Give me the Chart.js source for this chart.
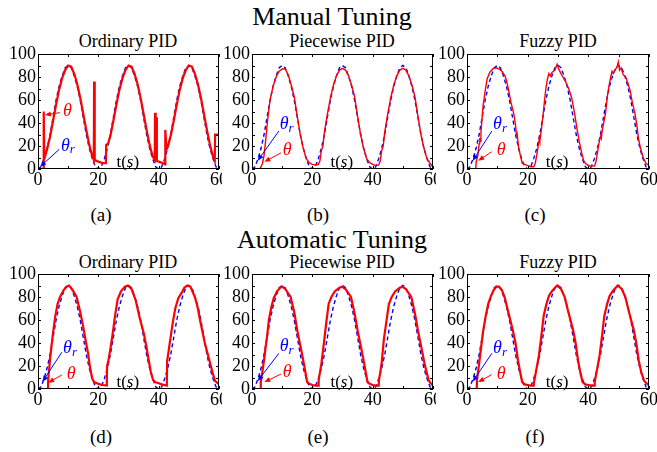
<!DOCTYPE html>
<html>
<head>
<meta charset="utf-8">
<script src="https://cdn.jsdelivr.net/npm/chart.js@4.4.1/dist/chart.umd.min.js"></script>
<style>
  body { margin: 0; background: #fff; }
  #fig { position: relative; width: 657px; height: 452px; overflow: hidden;
         font-family: 'Liberation Serif', 'Times New Roman', serif; color: #000; }
  .t { position: absolute; white-space: nowrap; transform: translate(-50%, -50%); line-height: 1; }
  canvas { position: absolute; }
</style>
</head>
<body>
<div id="fig">
  <div class="t" style="left:332px;top:17px;font-size:26px">Manual Tuning</div>
  <div class="t" style="left:128px;top:41px;font-size:18px">Ordinary PID</div>
  <div class="t" style="left:342px;top:41px;font-size:18px">Piecewise PID</div>
  <div class="t" style="left:558px;top:41px;font-size:18px">Fuzzy PID</div>
  <div class="t" style="left:101px;top:214px;font-size:19px">(a)</div>
  <div class="t" style="left:318px;top:214px;font-size:19px">(b)</div>
  <div class="t" style="left:535px;top:214px;font-size:19px">(c)</div>

  <div class="t" style="left:332px;top:240px;font-size:26px">Automatic Tuning</div>
  <div class="t" style="left:128px;top:262px;font-size:18px">Ordinary PID</div>
  <div class="t" style="left:342px;top:262px;font-size:18px">Piecewise PID</div>
  <div class="t" style="left:558px;top:262px;font-size:18px">Fuzzy PID</div>
  <div class="t" style="left:101px;top:436px;font-size:19px">(d)</div>
  <div class="t" style="left:318px;top:436px;font-size:19px">(e)</div>
  <div class="t" style="left:535px;top:436px;font-size:19px">(f)</div>

  <canvas id="pa" width="222" height="148" style="left:0px;top:44px"></canvas>
  <canvas id="pb" width="214" height="148" style="left:222px;top:44px"></canvas>
  <canvas id="pc" width="221" height="148" style="left:436px;top:44px"></canvas>
  <canvas id="pd" width="222" height="148" style="left:0px;top:264px"></canvas>
  <canvas id="pe" width="214" height="148" style="left:222px;top:264px"></canvas>
  <canvas id="pf" width="221" height="148" style="left:436px;top:264px"></canvas>
</div>
<script>
// axis ticks
const xTicks = [0, 20, 40, 60]
const yTicks = [0, 20, 40, 60, 80, 100]
const xMinor = [0, 10, 20, 30, 40, 50, 60]
const yMinor = [0, 10, 20, 30, 40, 50, 60, 70, 80, 90, 100]

// reference angle theta_r (same in every panel)
const tRef = [0,1,2,3,4,5,6,7,8,9,10,11,12,13,14,15,16,17,18,19,20,21,22,23,24,25,26,27,28,29,30,
  31,32,33,34,35,36,37,38,39,40,41,42,43,44,45,46,47,48,49,50,51,52,53,54,55,56,57,58,59,60]
const thetaRef = [0,2,9,18,30,45,60,72,81,88,90,88,81,72,60,45,30,18,9,2,0,
  2,9,18,30,45,60,72,81,88,90,88,81,72,60,45,30,18,9,2,0,
  2,9,18,30,45,60,72,81,88,90,88,81,72,60,45,30,18,9,2,0]

// measured angle theta, [t, value]
const manualOrdinary = [[0,0],[1.8,0],[1.9,50],[2.1,9],[3,17],[4,28],[5,42],[6,56],[7,69],[8,79],[9,86],[10,90],
  [11,89],[12,83],[13,74],[14,62],[15,48],[16,34],[17,21],[18,11],[18.5,8],[18.6,76],[18.8,8],[19.5,7],[20.5,6],
  [21.5,5],[22.5,5],[22.6,21],[23.2,22],[24,29],[25,42],[26,56],[27,69],[28,79],[29,86],[30,90],[31,89],[32,83],
  [33,74],[34,62],[35,48],[36,34],[37,21],[38,11],[38.7,8],[38.8,49],[39,7],[39.2,45],[39.4,7],[40.5,6],[41.5,5],
  [42.1,4],[42.2,34],[42.6,17],[43.2,21],[44,29],[45,42],[46,56],[47,69],[48,79],[49,86],[50,90],[51,89],[52,83],
  [53,74],[54,62],[55,48],[56,34],[57,21],[58,11],[58.6,7],[58.7,30],[60,30]]
const manualPiecewise = [[0,0],[2.6,0],[3,2],[3.5,5],[4,12],[4.5,24],[5,38],[5.5,50],[6,60],[7,72],[8,80],[9,85],
  [10,87],[11,87],[12,82],[13,73],[13.5,68],[14,63],[15,46],[16,30],[17,18],[18,9],[19,5.5],[20,4],[21,3.5],[22,4],
  [22.5,7],[23,16],[23.5,20],[24,32],[25,48],[26,62],[27,73],[28,81],[29,86],[30,87.5],[31,86],[32,81],[33,73],
  [33.5,68],[34,63],[35,46],[36,30],[37,18],[38,9],[39,5.5],[40,4],[41,3],[42,3.5],[42.5,7],[43,16],[43.5,20],
  [44,32],[45,48],[46,62],[47,73],[48,81],[49,86],[50,87.5],[51,86],[52,81],[53,73],[53.5,68],[54,63],[55,46],
  [56,30],[57,18],[58,9],[59,5],[60,2]]
const manualFuzzy = [[0,0],[2.9,0],[3,6],[3.6,12],[4,22],[4.2,27],[4.4,24],[4.6,32],[5,45],[5.3,55],[6,68],
  [6.6,78],[7.5,84],[8.5,87],[9.5,88],[10.5,87],[11.5,85],[12.5,81],[13,77],[13.6,70],[14.5,58],[15.5,47],[16,38],
  [16.3,30],[16.5,31],[17,19],[17.5,13],[18.2,5],[19,4],[20,3],[21,2],[22,2],[22.5,5],[23,12],[23.6,22],[23.8,26],
  [24,24],[24.4,32],[25,45],[25.5,58],[26,70],[26.5,78],[27,83],[27.5,81],[28,84],[29,86],[29.7,91],[30.2,87],
  [31,83],[31.6,80],[32.5,76],[33.5,70],[34.5,62],[35.5,48],[36.2,36],[37,24],[37.8,14],[38.5,7],[39,5],[40,3],
  [41,2.5],[42,2.5],[42.5,6],[43,14],[43.6,24],[44.1,29],[44.3,27],[44.6,34],[45.2,42],[45.7,49],[46.2,62],
  [46.8,72],[47.4,80],[47.8,85],[48.2,83],[48.8,86],[49.5,89],[49.9,93],[50.3,86],[50.8,88],[51.5,82],[52.3,80],
  [53,75],[53.8,68],[54.5,58],[55.4,48],[56,38],[56.5,27],[57.2,18],[58.2,9],[59,5],[60,3]]
const autoOrdinary = [[0,0],[3.3,0],[3.4,9],[4,26],[4.5,38],[5,49],[5.7,63],[6.5,74],[7.3,80],[8.5,86],[9.5,89],
  [10.3,90],[11.5,86],[12.8,80],[14,67],[15,54],[15.8,42],[16.6,31],[17.3,18],[18,9],[18.6,6],[19.5,5],[20.5,4],
  [21.5,3.5],[22.8,3],[22.9,20],[23.3,24],[24,35],[24.7,47],[25.5,63],[26.4,78],[27.5,85],[28.8,89],[29.8,90],
  [31,87],[32.4,77],[33.7,62],[35.1,48],[36,36],[36.7,25],[37.4,15],[38.1,8],[38.8,6],[40,5],[41,4],[42.7,3],
  [42.8,24],[43.9,44],[44.7,58],[45.5,70],[46.5,79],[47.7,84],[48.5,88],[49.5,90],[50.5,89],[52,80],[53,70],
  [53.7,60],[54.5,50],[55.3,40],[56.2,31],[57,23],[58,13],[58.7,7],[60,4]]
const autoPiecewise = [[0,0],[2.8,0],[2.9,6],[3.5,16],[4,25],[4.5,36],[5,46],[5.6,60],[6.4,71],[7.2,79],[8.3,85],
  [9.3,88],[10,89],[11,87],[12.8,80],[14,67],[15,51],[16,38],[17.2,22],[18.3,6],[19,4.5],[20,3.5],[21,3],[22,3],
  [22.1,8],[22.5,14],[23,22],[23.8,39],[24.5,55],[25.4,74],[26.3,80],[27.5,85],[29,88],[29.8,89],[31,87],[32.8,80],
  [34,66],[35,51],[36,38],[37.2,22],[38.3,6],[39,4.5],[40,3.5],[41,3],[42,3],[42.1,8],[42.5,14],[43,23],[43.7,43],
  [44.5,58],[45.4,74],[46.3,80],[47.5,85],[49,88],[49.8,89],[51,87],[52.8,80],[54,66],[55,51],[56,38],[57.2,22],
  [58.5,8],[59.2,5],[60,3]]
const autoFuzzy = [[0,0],[3.2,0],[3.3,8],[3.8,18],[4.6,35],[5.3,50],[6.2,64],[7,74],[7.9,81],[8.8,86],[9.7,89],
  [10.5,89],[11.5,86],[12.4,80],[13.5,68],[15.1,51],[16,40],[16.8,25],[17.5,15],[18.2,6],[19,4],[20,3.5],[21,3],
  [22,3],[22.1,6],[22.8,16],[23.7,29],[24.5,46],[25.3,64],[26.2,74],[27,81],[28,85],[29,88],[29.7,90],[31,87],
  [32.2,80],[33.3,68],[35,51],[35.8,40],[36.6,25],[37.3,15],[38.1,6],[39,4],[40,3.5],[41,3],[42,3],[42.1,6],
  [42.8,16],[43.7,29],[44.5,46],[45.3,64],[46.2,74],[47,81],[48,85],[49,88],[49.7,90],[51,87],[52.2,80],[53.3,68],
  [55,51],[55.8,40],[56.6,25],[57.4,15],[58.4,7],[59.2,5],[60,3]]

const RED = '#ff0000'
const BLUE = '#0000ff'
const SERIF = "'Liberation Serif', 'Times New Roman', serif"

// canvas placement, plot box (page px), label anchors in data units
const panels = [
  { id: 'pa', left: 0, top: 44, box: [38, 219, 54, 169], red: manualOrdinary, rw: 2.2,
    th: [8.3, 50], thA: [7.3, 49, 2.3, 47], tr: [7.6, 20], trA: [7.0, 17, 0.7, 2] },
  { id: 'pb', left: 222, top: 44, box: [252, 433, 54, 169], red: manualPiecewise, rw: 1.4,
    th: [10.2, 16], thA: [9.6, 14, 4.1, 6.3], tr: [9.2, 39], trA: [8.9, 33, 1.9, 7.2] },
  { id: 'pc', left: 436, top: 44, box: [467, 649, 54, 169], red: manualFuzzy, rw: 1.4,
    th: [9.8, 16], thA: [8.1, 15, 3.7, 7.2], tr: [8.6, 39], trA: [8.2, 33, 1.9, 7.2] },
  { id: 'pd', left: 0, top: 264, box: [38, 219, 274, 389], red: autoOrdinary, rw: 2.2,
    th: [9.5, 13], thA: [7.9, 12.2, 3.4, 5.5], tr: [8.3, 35.4], trA: [7.9, 32, 1.5, 6.3] },
  { id: 'pe', left: 222, top: 264, box: [252, 433, 274, 389], red: autoPiecewise, rw: 2.2,
    th: [10.2, 14.4], thA: [9.6, 13, 4.1, 6], tr: [9.2, 37], trA: [8.9, 31, 1.9, 7] },
  { id: 'pf', left: 436, top: 264, box: [467, 649, 274, 389], red: autoFuzzy, rw: 2.2,
    th: [9.8, 13], thA: [8.1, 12.5, 3.7, 6], tr: [8.6, 35], trA: [8.2, 31, 1.9, 6.5] },
]

function arrow(ctx, x0, y0, x1, y1, color) {
  const ang = Math.atan2(y1 - y0, x1 - x0)
  const hl = 6, hw = 2.6
  ctx.strokeStyle = color
  ctx.fillStyle = color
  ctx.lineWidth = 1
  ctx.beginPath()
  ctx.moveTo(x0, y0)
  ctx.lineTo(x1 - Math.cos(ang) * hl * 0.8, y1 - Math.sin(ang) * hl * 0.8)
  ctx.stroke()
  ctx.beginPath()
  ctx.moveTo(x1, y1)
  ctx.lineTo(x1 - Math.cos(ang) * hl - Math.sin(ang) * hw, y1 - Math.sin(ang) * hl + Math.cos(ang) * hw)
  ctx.lineTo(x1 - Math.cos(ang) * hl + Math.sin(ang) * hw, y1 - Math.sin(ang) * hl - Math.cos(ang) * hw)
  ctx.closePath()
  ctx.fill()
}

function drawFrame(chart, p) {
  const { ctx, chartArea: a, scales: { x, y } } = chart
  ctx.save()
  ctx.strokeStyle = '#000'
  ctx.lineWidth = 1
  ctx.strokeRect(a.left + 0.5, a.top + 0.5, a.right - a.left - 1, a.bottom - a.top - 1)
  ctx.beginPath()
  xMinor.forEach(v => {
    const px = Math.round(x.getPixelForValue(v)) + 0.5
    ctx.moveTo(px, a.bottom); ctx.lineTo(px, a.bottom - 3)
    ctx.moveTo(px, a.top); ctx.lineTo(px, a.top + 3)
  })
  yMinor.forEach(v => {
    const py = Math.round(y.getPixelForValue(v)) + 0.5
    ctx.moveTo(a.left, py); ctx.lineTo(a.left + 3, py)
    ctx.moveTo(a.right, py); ctx.lineTo(a.right - 3, py)
  })
  ctx.stroke()

  const X = v => x.getPixelForValue(v)
  const Y = v => y.getPixelForValue(v)
  ctx.textBaseline = 'middle'
  ctx.textAlign = 'left'

  // theta
  ctx.fillStyle = RED
  ctx.font = 'italic 18px ' + SERIF
  ctx.fillText('θ', X(p.th[0]), Y(p.th[1]))
  arrow(ctx, X(p.thA[0]), Y(p.thA[1]), X(p.thA[2]), Y(p.thA[3]), RED)

  // theta_r
  ctx.fillStyle = BLUE
  ctx.font = 'italic 18px ' + SERIF
  const tx = X(p.tr[0]), ty = Y(p.tr[1])
  ctx.fillText('θ', tx, ty)
  const w = ctx.measureText('θ').width
  ctx.font = 'italic 13px ' + SERIF
  ctx.fillText('r', tx + w, ty + 4)
  arrow(ctx, X(p.trA[0]), Y(p.trA[1]), X(p.trA[2]), Y(p.trA[3]), BLUE)

  // t(s)
  ctx.fillStyle = '#000'
  let lx = X(26), ly = Y(5.5)
  ctx.font = '17px ' + SERIF
  ctx.fillText('t(', lx, ly); lx += ctx.measureText('t(').width
  ctx.font = 'italic 17px ' + SERIF
  ctx.fillText('s', lx, ly); lx += ctx.measureText('s').width
  ctx.font = '17px ' + SERIF
  ctx.fillText(')', lx, ly)
  ctx.restore()
}

Chart.defaults.font.family = SERIF
Chart.defaults.color = '#000'

panels.forEach(p => {
  const cv = document.getElementById(p.id)
  const [L, R, T, B] = p.box
  const yw = L - p.left
  const xh = cv.height - (B - p.top)
  new Chart(cv.getContext('2d'), {
    type: 'line',
    data: {
      datasets: [
        { data: p.red.map(d => ({ x: d[0], y: d[1] })), borderColor: RED, borderWidth: p.rw,
          pointRadius: 0, tension: 0, fill: false },
        { data: tRef.map((t, i) => ({ x: t, y: thetaRef[i] })), borderColor: BLUE, borderWidth: 1.4,
          borderDash: [4, 3], pointRadius: 0, tension: 0, fill: false },
      ]
    },
    options: {
      responsive: false,
      animation: false,
      events: [],
      layout: { padding: { left: 0, right: cv.width - (R - p.left), top: T - p.top, bottom: 0 } },
      plugins: { legend: { display: false }, tooltip: { enabled: false } },
      scales: {
        x: {
          type: 'linear', min: 0, max: 60,
          afterBuildTicks: s => { s.ticks = xTicks.map(v => ({ value: v })) },
          afterFit: s => { s.height = xh; s.paddingLeft = 0; s.paddingRight = 0 },
          grid: { display: false, drawTicks: false },
          border: { display: false },
          ticks: { font: { size: 18 }, padding: 0, maxRotation: 0, autoSkip: false }
        },
        y: {
          min: 0, max: 100,
          afterBuildTicks: s => { s.ticks = yTicks.map(v => ({ value: v })) },
          afterFit: s => { s.width = yw; s.paddingTop = 0; s.paddingBottom = 0 },
          grid: { display: false, drawTicks: false },
          border: { display: false },
          ticks: { font: { size: 18 }, padding: 2, autoSkip: false }
        }
      }
    },
    plugins: [{ id: 'frame', afterDatasetsDraw: chart => drawFrame(chart, p) }]
  })
})
</script>
</body>
</html>
